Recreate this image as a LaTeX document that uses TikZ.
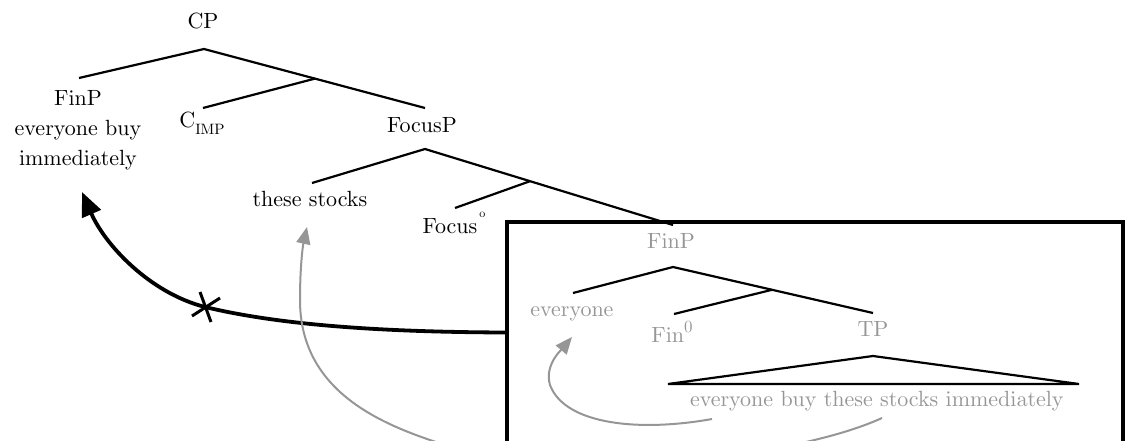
\documentclass[tikz,border=0pt]{standalone}
\usetikzlibrary{arrows.meta}
\definecolor{gtxt}{RGB}{150,150,150}
\font\trm=cmr10 at 22pt
\font\tsub=cmr10 at 15pt
\font\tsupo=cmr10 at 12pt
\font\tsupz=cmr10 at 17pt
\begin{document}
\begin{tikzpicture}[x=1pt,y=-1pt,
  lbl/.style={inner sep=0pt, anchor=base, font={\trm\baselineskip=30pt}},
  glbl/.style={lbl, text=gtxt},
  branch/.style={line width=2.2pt},
  boxst/.style={draw, line width=4pt, inner sep=0pt, minimum width=616pt, minimum height=221pt},
  blkarrow/.style={line width=3.8pt, -{Triangle[length=24pt,width=20pt]}},
  grarrow/.style={draw=gtxt, line width=2pt, -{Triangle[length=17pt,width=14pt]}},
  xmark/.style={line width=3pt}
]
\useasboundingbox (0,0) rectangle (1126,441);
\begin{scope}
\clip (0,0) rectangle (1126,441);
% labels
\node[lbl] (cp) at (203,29) {CP};
\node[lbl, anchor=north, align=center] (finp1) at (78,90) {FinP\\everyone buy\\immediately};
\node[lbl] (cimp) at (202,128) {C\raisebox{-6pt}{\tsub IMP}};
\node[lbl] (focp) at (422,132) {FocusP};
\node[lbl] (stocks) at (310,206) {these stocks};
\node[lbl] (foc0) at (454,233) {Focus\kern2pt\raisebox{16pt}{\tsupo o}};
\node[glbl] (finp2) at (671,248) {FinP};
\node[glbl] (every) at (572,316) {everyone};
\node[glbl] (fin0) at (672,342) {Fin\raisebox{10pt}{\tsupz 0}};
\node[glbl] (tp) at (873,336) {TP};
\node[glbl] (tpstr) at (877,406) {everyone buy these stocks immediately};
% tree points
\coordinate (a1) at (204,49);
\coordinate (a1l) at (79,78);
\coordinate (a1r) at (425,108);
\coordinate (j1) at (315,78.6);
\coordinate (j1l) at (203,108);
\coordinate (a2) at (425,149);
\coordinate (a2l) at (312,183);
\coordinate (a2r) at (673,225);
\coordinate (j2) at (530,181.2);
\coordinate (j2l) at (455,208);
\coordinate (a3) at (673,267);
\coordinate (a3l) at (573,293);
\coordinate (a3r) at (873,313);
\coordinate (j3) at (772,289.8);
\coordinate (j3l) at (674,314);
\coordinate (t1) at (873,356);
\coordinate (t2) at (668,384);
\coordinate (t3) at (1079,384);
% branches
\draw[branch] (a1l) -- (a1) -- (a1r);
\draw[branch] (j1l) -- (j1);
\draw[branch] (a2l) -- (a2) -- (a2r);
\draw[branch] (j2l) -- (j2);
\draw[branch] (a3l) -- (a3) -- (a3r);
\draw[branch] (j3l) -- (j3);
\draw[branch, line join=miter] (t1) -- (t2) -- (t3) -- cycle;
% box
\node[boxst] (bx) at (815,332.5) {};
% black arrow with X
\coordinate (xm) at (205,307);
\coordinate (tipA) at (82,192);
\draw[blkarrow] (bx.west) .. controls (380,332) and (280,325) .. (xm)
  .. controls (150,293) and (105,245) .. (tipA);
\draw[xmark] (xm) ++(-13,9) -- ++(28,-18);
\draw[xmark] (xm) ++(-5,-15) -- ++(11,30);
% gray arrows
\coordinate (g1s) at (712,419);
\coordinate (g1e) at (572,337);
\draw[grarrow] (g1s) .. controls (640,432) and (565,425) .. (550,385)
  .. controls (544,365) and (562,349) .. (g1e);
\coordinate (g2s) at (882,418);
\coordinate (g2e) at (307,227);
\draw[grarrow] (g2s) .. controls (790,460) and (560,483) .. (433,441)
  .. controls (370,420) and (300,385) .. (300,300)
  .. controls (300,265) and (303,245) .. (g2e);
\end{scope}
\end{tikzpicture}
\end{document}
